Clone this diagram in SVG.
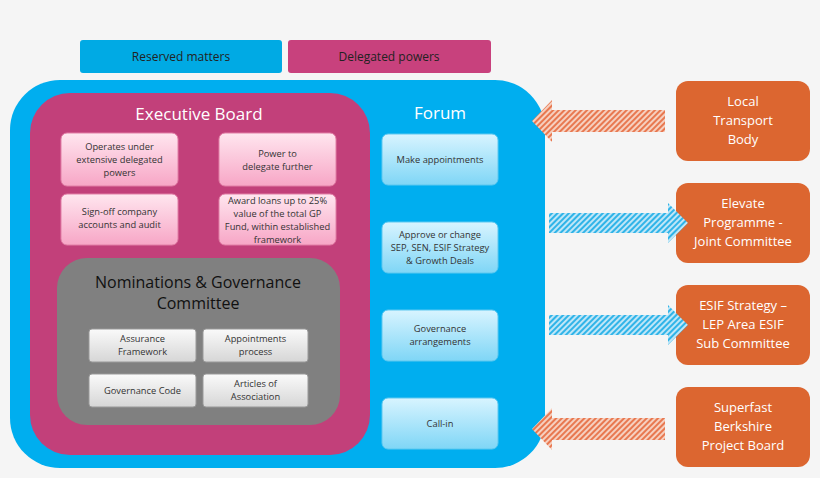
<svg xmlns="http://www.w3.org/2000/svg" width="820" height="478" viewBox="0 0 820 478">
<defs>
<pattern id="hO" width="4" height="4" patternUnits="userSpaceOnUse" patternTransform="rotate(45)"><rect width="4" height="4" fill="#f6d0c0"/><rect width="2" height="4" fill="#e87850"/></pattern>
<pattern id="hB" width="4" height="4" patternUnits="userSpaceOnUse" patternTransform="rotate(45)"><rect width="4" height="4" fill="#bfe6f7"/><rect width="2" height="4" fill="#30b4e8"/></pattern>
<linearGradient id="gP" x1="0" y1="0" x2="0" y2="1"><stop offset="0" stop-color="#ffe6ef"/><stop offset="1" stop-color="#f7a6c6"/></linearGradient>
<linearGradient id="gB" x1="0" y1="0" x2="0" y2="1"><stop offset="0" stop-color="#d8f4ff"/><stop offset="1" stop-color="#7fd6f6"/></linearGradient>
<linearGradient id="gG" x1="0" y1="0" x2="0" y2="1"><stop offset="0" stop-color="#fafafa"/><stop offset="1" stop-color="#d6d6d6"/></linearGradient>
</defs>
<style>
text{font-family:"Open Sans","Liberation Sans",sans-serif;text-anchor:middle}
.s{font-size:9.3px;fill:#333}
.pk{fill:url(#gP);stroke:#e27ea6;stroke-width:1}
.fb{fill:url(#gB);stroke:#5cc8f0;stroke-width:1}
.gb{fill:url(#gG);stroke:#999;stroke-width:1}
.or{fill:#dc6630}
.ot{font-size:13px;fill:#fff}
.t{font-size:17px;fill:#fff}
</style>
<rect width="820" height="478" fill="#f5f5f5"/>
<g id="reserved"><rect x="80" y="40" width="202" height="33" rx="3" fill="#00aae4"/><text x="181" y="61" font-size="12" fill="#222">Reserved matters</text></g>
<g id="delegated"><rect x="288" y="40" width="203" height="33" rx="3" fill="#c8417d"/><text x="389" y="61" font-size="12" fill="#222">Delegated powers</text></g>
<g id="forum"><rect x="10" y="80" width="535" height="388" rx="50" fill="#00aeef"/><text x="440" y="119" class="t">Forum</text></g>
<g id="exec"><rect x="30" y="93" width="340" height="362" rx="40" fill="#c2407a"/><text x="199" y="120" class="t">Executive Board</text></g>
<g id="e1"><rect class="pk" x="61" y="133" width="117" height="53" rx="6"/><text class="s" x="119.5" y="150">Operates under</text><text class="s" x="119.5" y="163">extensive delegated</text><text class="s" x="119.5" y="176">powers</text></g>
<g id="e2"><rect class="pk" x="219" y="133" width="117" height="53" rx="6"/><text class="s" x="277.5" y="157">Power to</text><text class="s" x="277.5" y="170">delegate further</text></g>
<g id="e3"><rect class="pk" x="61" y="194" width="117" height="51" rx="6"/><text class="s" x="119.5" y="215">Sign-off company</text><text class="s" x="119.5" y="228">accounts and audit</text></g>
<g id="e4"><rect class="pk" x="219" y="194" width="117" height="51" rx="6"/><text class="s" x="277.5" y="204">Award loans up to 25%</text><text class="s" x="277.5" y="217">value of the total GP</text><text class="s" x="277.5" y="230">Fund, within established</text><text class="s" x="277.5" y="243">framework</text></g>
<g id="nom"><rect x="57" y="258" width="283" height="167" rx="30" fill="#808080"/><text x="198" y="288" font-size="16" fill="#111">Nominations &amp; Governance</text><text x="198" y="309" font-size="16" fill="#111">Committee</text></g>
<g id="n1"><rect class="gb" x="89" y="329" width="107" height="33" rx="3"/><text class="s" x="142.5" y="342">Assurance</text><text class="s" x="142.5" y="355">Framework</text></g>
<g id="n2"><rect class="gb" x="203" y="329" width="105" height="33" rx="3"/><text class="s" x="255.5" y="342">Appointments</text><text class="s" x="255.5" y="355">process</text></g>
<g id="n3"><rect class="gb" x="89" y="374" width="107" height="33" rx="3"/><text class="s" x="142.5" y="394">Governance Code</text></g>
<g id="n4"><rect class="gb" x="203" y="374" width="105" height="33" rx="3"/><text class="s" x="255.5" y="387">Articles of</text><text class="s" x="255.5" y="400">Association</text></g>
<g id="f1"><rect class="fb" x="382" y="134" width="116" height="51" rx="6"/><text class="s" x="440" y="163">Make appointments</text></g>
<g id="f2"><rect class="fb" x="382" y="222" width="116" height="51" rx="6"/><text class="s" x="440" y="238">Approve or change</text><text class="s" x="440" y="251">SEP, SEN, ESIF Strategy</text><text class="s" x="440" y="264">&amp; Growth Deals</text></g>
<g id="f3"><rect class="fb" x="382" y="310" width="116" height="51" rx="6"/><text class="s" x="440" y="332">Governance</text><text class="s" x="440" y="345">arrangements</text></g>
<g id="f4"><rect class="fb" x="382" y="398" width="116" height="51" rx="6"/><text class="s" x="440" y="427">Call-in</text></g>
<g id="o1"><rect class="or" x="676" y="81" width="134" height="80" rx="12"/><text class="ot" x="743" y="106">Local</text><text class="ot" x="743" y="125">Transport</text><text class="ot" x="743" y="144">Body</text></g>
<g id="o2"><rect class="or" x="676" y="183" width="134" height="80" rx="12"/><text class="ot" x="743" y="208">Elevate</text><text class="ot" x="743" y="227">Programme -</text><text class="ot" x="743" y="246">Joint Committee</text></g>
<g id="o3"><rect class="or" x="676" y="285" width="134" height="80" rx="12"/><text class="ot" x="743" y="310">ESIF Strategy –</text><text class="ot" x="743" y="329">LEP Area ESIF</text><text class="ot" x="743" y="348">Sub Committee</text></g>
<g id="o4"><rect class="or" x="676" y="387" width="134" height="80" rx="12"/><text class="ot" x="743" y="412">Superfast</text><text class="ot" x="743" y="431">Berkshire</text><text class="ot" x="743" y="450">Project Board</text></g>
<g id="connectors">
<path d="M665,110 H552 V100 L532,121 L552,142 V132 H665 Z" fill="url(#hO)"/>
<path d="M549,213 H668 V203 L688,223 L668,243 V233 H549 Z" fill="url(#hB)"/>
<path d="M549,315 H668 V305 L688,325 L668,345 V335 H549 Z" fill="url(#hB)"/>
<path d="M665,418 H552 V408 L532,429 L552,450 V440 H665 Z" fill="url(#hO)"/>
</g>
</svg>
